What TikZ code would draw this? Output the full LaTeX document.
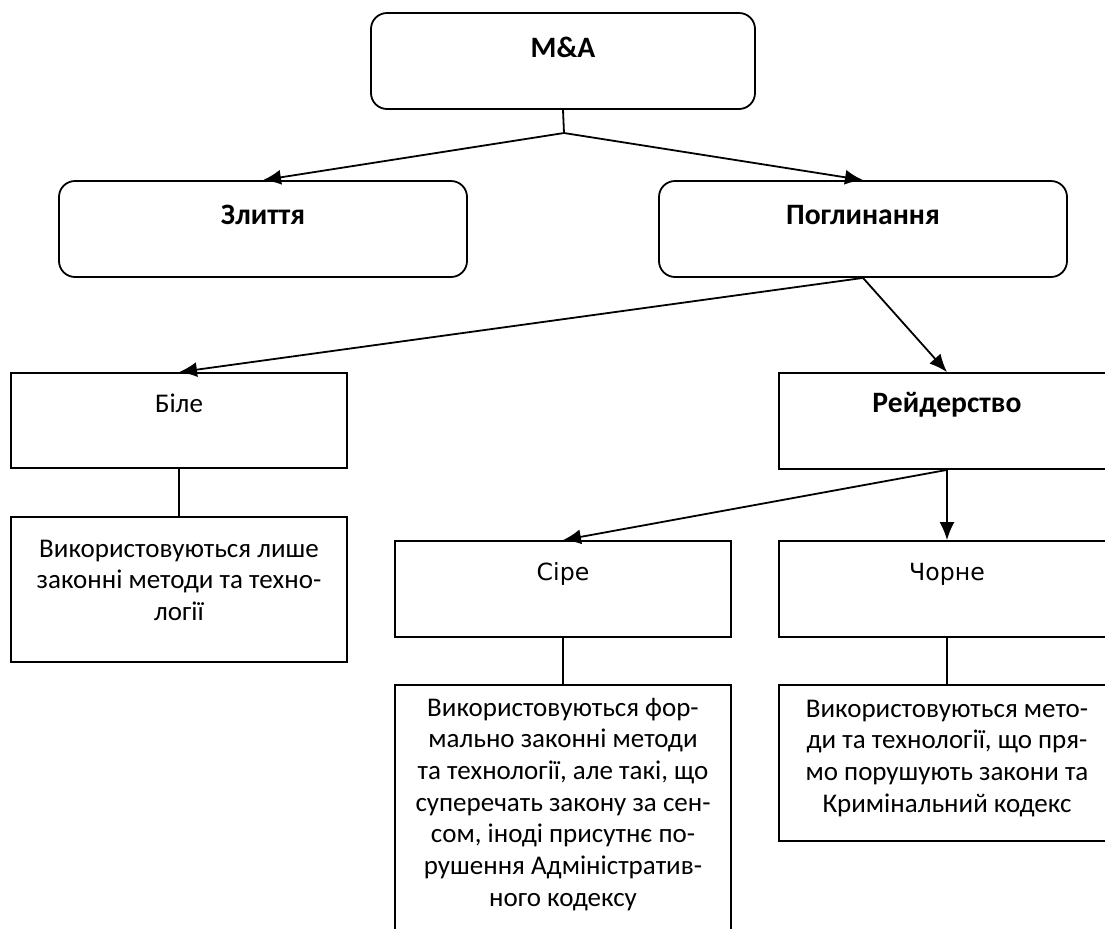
\documentclass[tikz,border=0pt]{standalone}
\usepackage{fontspec}
\setmainfont{Carlito}
\newfontfamily\dejavu{DejaVu Sans}
\usetikzlibrary{arrows.meta}
\begin{document}
\begin{tikzpicture}[x=0.5pt,y=-0.5pt,
  rbox/.style={draw, line width=0.9pt, rounded corners=8pt, minimum height=48pt, inner sep=0pt},
  sbox/.style={draw, line width=0.9pt, minimum width=168pt, inner sep=0pt},
  head/.style={anchor=base, font=\fontsize{14.8}{17}\selectfont\bfseries, inner sep=0pt},
  body/.style={anchor=base, font=\fontsize{13.5}{15.85}\selectfont, align=flush center, text width=168pt, inner sep=0pt},
  dv/.style={anchor=base, font=\fontsize{11.8}{14}\selectfont\dejavu, inner sep=0pt},
  arr/.style={line width=0.9pt, -{Latex[length=9pt,width=7.5pt]}},
  ln/.style={line width=0.9pt}]
\useasboundingbox (0,0) rectangle (1105,928);
\clip (0,0) rectangle (1105,928);
% boxes
\node[rbox, minimum width=192pt] (ma) at (563,61) {};
\node[rbox, minimum width=204pt] (zl) at (263,229) {};
\node[rbox, minimum width=204pt] (pg) at (863,229) {};
\node[sbox, minimum height=47.5pt] (bile) at (179,420.5) {};
\node[sbox, minimum height=72.5pt] (bd) at (179,589.5) {};
\node[sbox, minimum height=48pt] (reid) at (947,421) {};
\node[sbox, minimum height=48pt] (sire) at (563,589) {};
\node[sbox, minimum height=48pt] (chorne) at (947,589) {};
\node[sbox, minimum height=127.5pt] (sd) at (563,812.5) {};
\node[sbox, minimum height=78pt] (cd) at (947,763) {};
% texts
\node[head] (tma) at (563,57) {M\&A};
\node[head] (tzl) at (263,224) {Злиття};
\node[head] (tpg) at (863,224) {Поглинання};
\node[head] (trd) at (947,412) {Рейдерство};
\node[body] (tbl) at (179,412) {Біле};
\node[dv] (tsr) at (563,580) {Сіре};
\node[dv] (tch) at (947,580) {Чорне};
\node[body] (tbd) at (179,557) {Використовуються лише\\законні методи та техно-\\логії};
\node[body] (tsd) at (563,716) {Використовуються фор-\\мально законні методи\\та технології, але такі, що\\суперечать закону за сен-\\сом, іноді присутнє по-\\рушення Адміністратив-\\ного кодексу};
\node[body] (tcd) at (947,717) {Використовуються мето-\\ди та технології, що пря-\\мо порушують закони та\\Кримінальний кодекс};
% connectors
\coordinate (j) at (564,133);
\draw[ln] (ma.south) -- (j);
\draw[arr] (j) -- (zl.north);
\draw[arr] (j) -- (pg.north);
\draw[arr] (pg.south) -- (bile.north);
\draw[arr] (pg.south) -- (reid.north);
\draw[arr] (reid.south) -- (sire.north);
\draw[arr] (reid.south) -- (chorne.north);
\draw[ln] (bile.south) -- (bd.north);
\draw[ln] (sire.south) -- (sd.north);
\draw[ln] (chorne.south) -- (cd.north);
\end{tikzpicture}
\end{document}
